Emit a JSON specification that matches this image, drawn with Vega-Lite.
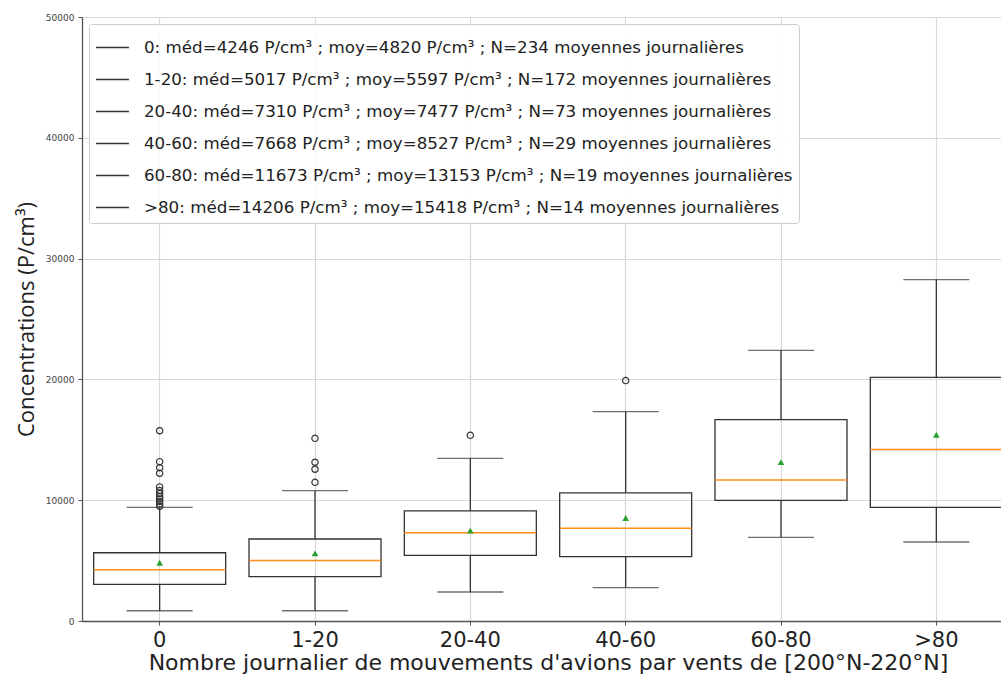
{
  "$schema": "https://vega.github.io/schema/vega-lite/v6.json",
  "autosize": {"type": "none"},
  "padding": {"left": 82, "top": 17, "right": 0, "bottom": 54},
  "width": 919,
  "height": 604,
  "background": "white",
  "config": {
    "view": {"stroke": null},
    "font": "DejaVu Sans",
    "legend": {
      "orient": "none",
      "legendX": 7,
      "legendY": 7,
      "fillColor": "rgba(255,255,255,0.85)",
      "strokeColor": "#cccccc",
      "cornerRadius": 3,
      "padding": 6,
      "labelFontSize": 16.7,
      "labelColor": "#222222",
      "labelLimit": 1000,
      "labelOffset": 14,
      "symbolType": "stroke",
      "symbolSize": 1089,
      "symbolStrokeWidth": 1.3,
      "rowPadding": 5
    }
  },
  "datasets": {
    "stats": [
      {"cat": "0", "label": "0: méd=4246 P/cm³ ; moy=4820 P/cm³ ; N=234 moyennes journalières", "q1": 3040, "q3": 5650, "med": 4246, "mean": 4820, "lo": 850, "hi": 9410},
      {"cat": "1-20", "label": "1-20: méd=5017 P/cm³ ; moy=5597 P/cm³ ; N=172 moyennes journalières", "q1": 3670, "q3": 6790, "med": 5017, "mean": 5597, "lo": 850, "hi": 10790},
      {"cat": "20-40", "label": "20-40: méd=7310 P/cm³ ; moy=7477 P/cm³ ; N=73 moyennes journalières", "q1": 5440, "q3": 9110, "med": 7310, "mean": 7477, "lo": 2400, "hi": 13470},
      {"cat": "40-60", "label": "40-60: méd=7668 P/cm³ ; moy=8527 P/cm³ ; N=29 moyennes journalières", "q1": 5330, "q3": 10600, "med": 7668, "mean": 8527, "lo": 2760, "hi": 17330},
      {"cat": "60-80", "label": "60-80: méd=11673 P/cm³ ; moy=13153 P/cm³ ; N=19 moyennes journalières", "q1": 9990, "q3": 16670, "med": 11673, "mean": 13153, "lo": 6930, "hi": 22410},
      {"cat": ">80", "label": ">80: méd=14206 P/cm³ ; moy=15418 P/cm³ ; N=14 moyennes journalières", "q1": 9410, "q3": 20170, "med": 14206, "mean": 15418, "lo": 6540, "hi": 28260}
    ],
    "outliers": [
      {"cat": "0", "v": 9500}, {"cat": "0", "v": 9700}, {"cat": "0", "v": 9900}, {"cat": "0", "v": 10100},
      {"cat": "0", "v": 10300}, {"cat": "0", "v": 10550}, {"cat": "0", "v": 10800}, {"cat": "0", "v": 11100},
      {"cat": "0", "v": 12230}, {"cat": "0", "v": 12690}, {"cat": "0", "v": 13190}, {"cat": "0", "v": 15750},
      {"cat": "1-20", "v": 11480}, {"cat": "1-20", "v": 12560}, {"cat": "1-20", "v": 13140}, {"cat": "1-20", "v": 15120},
      {"cat": "20-40", "v": 15370},
      {"cat": "40-60", "v": 19900}
    ]
  },
  "layer": [
    {
      "data": {"name": "stats"},
      "mark": {"type": "rule", "color": "#333333", "strokeWidth": 1.3},
      "encoding": {
        "x": {"field": "cat", "type": "nominal", "sort": null,
          "scale": {"type": "band", "range": [0, 932], "paddingInner": 0, "paddingOuter": 0},
          "axis": {
            "title": "Nombre journalier de mouvements d'avions par vents de [200°N-220°N]",
            "titleFontSize": 22, "titleFontWeight": "normal", "titleColor": "#222222", "titlePadding": 2,
            "labelFontSize": 21, "labelColor": "#222222", "labelAngle": 0, "labelPadding": 4,
            "tickSize": 4, "tickColor": "#555555", "domainColor": "#555555", "domainWidth": 1.3,
            "grid": true, "gridColor": "#d9d9d9", "gridWidth": 1.2
          }},
        "y": {"field": "lo", "type": "quantitative",
          "scale": {"domain": [0, 50000], "nice": false},
          "axis": {
            "title": "Concentrations (P/cm³)", "titleFont": "Open Sans", "titleFontSize": 22, "titleFontWeight": "normal",
            "titleColor": "#222222", "titlePadding": 7,
            "values": [0, 10000, 20000, 30000, 40000, 50000], "format": "d",
            "labelFontSize": 9, "labelColor": "#444444", "labelPadding": 4,
            "tickSize": 4, "tickColor": "#555555", "domainColor": "#555555", "domainWidth": 1.3,
            "grid": true, "gridColor": "#d9d9d9", "gridWidth": 1.2
          }},
        "y2": {"field": "q1"}
      }
    },
    {
      "data": {"name": "stats"},
      "mark": {"type": "rule", "color": "#333333", "strokeWidth": 1.3},
      "encoding": {
        "x": {"field": "cat", "type": "nominal", "sort": null},
        "y": {"field": "q3", "type": "quantitative"},
        "y2": {"field": "hi"}
      }
    },
    {
      "data": {"name": "stats"},
      "mark": {"type": "tick", "color": "#333333", "thickness": 1.3, "size": 66, "orient": "horizontal"},
      "encoding": {
        "x": {"field": "cat", "type": "nominal", "sort": null},
        "y": {"field": "lo", "type": "quantitative"}
      }
    },
    {
      "data": {"name": "stats"},
      "mark": {"type": "tick", "color": "#333333", "thickness": 1.3, "size": 66, "orient": "horizontal"},
      "encoding": {
        "x": {"field": "cat", "type": "nominal", "sort": null},
        "y": {"field": "hi", "type": "quantitative"}
      }
    },
    {
      "data": {"name": "stats"},
      "mark": {"type": "bar", "size": 132, "fill": "transparent", "strokeWidth": 1.3},
      "encoding": {
        "x": {"field": "cat", "type": "nominal", "sort": null},
        "y": {"field": "q1", "type": "quantitative"},
        "y2": {"field": "q3"},
        "stroke": {"field": "label", "type": "nominal", "sort": null,
          "scale": {"range": ["#333333"]},
          "legend": {"title": null}}
      }
    },
    {
      "data": {"name": "stats"},
      "mark": {"type": "tick", "color": "#ff8c1a", "thickness": 1.5, "size": 132, "orient": "horizontal", "opacity": 1},
      "encoding": {
        "x": {"field": "cat", "type": "nominal", "sort": null},
        "y": {"field": "med", "type": "quantitative"}
      }
    },
    {
      "data": {"name": "stats"},
      "mark": {"type": "point", "shape": "triangle-up", "filled": true, "color": "#2ca02c", "size": 45, "opacity": 1},
      "encoding": {
        "x": {"field": "cat", "type": "nominal", "sort": null},
        "y": {"field": "mean", "type": "quantitative"}
      }
    },
    {
      "data": {"name": "outliers"},
      "mark": {"type": "point", "shape": "circle", "filled": false, "color": "#333333", "strokeWidth": 1.2, "size": 40, "opacity": 1},
      "encoding": {
        "x": {"field": "cat", "type": "nominal", "sort": null},
        "y": {"field": "v", "type": "quantitative"}
      }
    },
    {
      "mark": {"type": "rule", "color": "#555555", "strokeWidth": 1.3},
      "encoding": {"y": {"datum": 50000, "type": "quantitative"}}
    }
  ]
}
